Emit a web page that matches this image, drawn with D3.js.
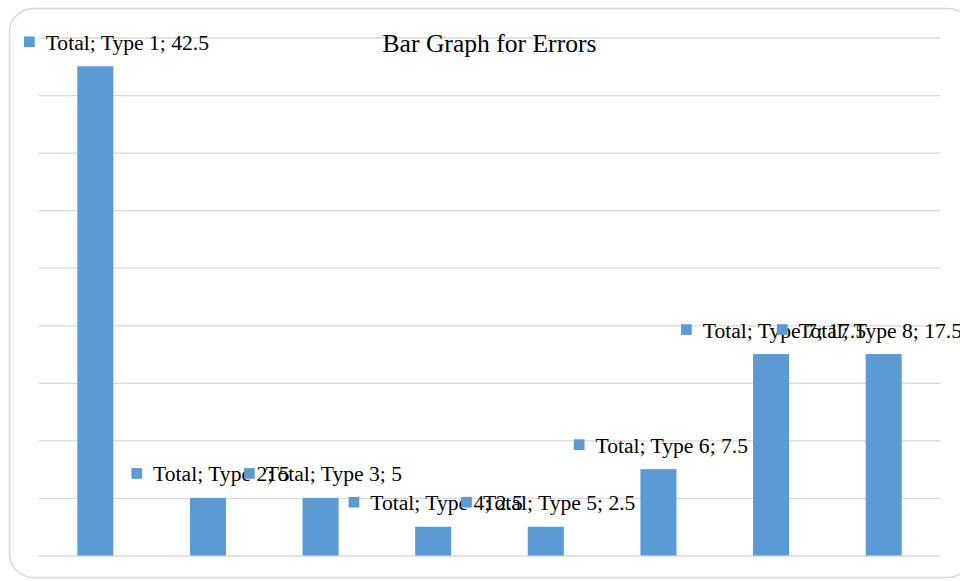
<!DOCTYPE html>
<html>
<head>
<meta charset="utf-8">
<script src="https://cdn.jsdelivr.net/npm/d3@7"></script>
<style>
  html, body { margin: 0; padding: 0; background: #fff; }
  svg { display: block; }
</style>
</head>
<body>
<svg id="chart" width="960" height="581"></svg>
<script>
const seriesName = "Total";
const categories = ["Type 1", "Type 2", "Type 3", "Type 4", "Type 5", "Type 6", "Type 7", "Type 8"];
const values = [42.5, 5, 5, 2.5, 2.5, 7.5, 17.5, 17.5];
const yTicks = [0, 5, 10, 15, 20, 25, 30, 35, 40, 45];
const title = "Bar Graph for Errors";

const W = 960, H = 581;
const svg = d3.select("#chart");
const font = "'Liberation Serif', 'Times New Roman', serif";
const barColor = "#5b9bd5";

// chart area border
svg.append("rect")
  .attr("x", 9.5).attr("y", 8.5)
  .attr("width", 962).attr("height", 569)
  .attr("rx", 24).attr("ry", 24)
  .attr("fill", "#fff")
  .attr("stroke", "#d9d9d9").attr("stroke-width", 1.5);

const plot = { left: 39, right: 940, top: 37.5, bottom: 555.5 };

const x = d3.scaleBand()
  .domain(categories)
  .range([plot.left, plot.right])
  .paddingInner(0.68).paddingOuter(0.34);

const y = d3.scaleLinear()
  .domain([0, 45])
  .range([plot.bottom, plot.top]);

// gridlines
const yAxis = d3.axisLeft(y).tickValues(yTicks).tickSize(-(plot.right - plot.left)).tickFormat("");
const gAxis = svg.append("g").attr("transform", `translate(${plot.left},0)`).call(yAxis);
gAxis.select(".domain").remove();
gAxis.selectAll(".tick line").attr("stroke", "#d9d9d9").attr("stroke-width", 1.3);

// bars
svg.append("g").selectAll("rect")
  .data(values)
  .join("rect")
  .attr("x", (d, i) => x(categories[i]))
  .attr("y", d => y(d))
  .attr("width", x.bandwidth())
  .attr("height", d => y(0) - y(d))
  .attr("fill", barColor);

// title
svg.append("text")
  .attr("x", 489.5).attr("y", 51.5)
  .attr("text-anchor", "middle")
  .attr("font-family", font)
  .attr("font-size", 25.6)
  .attr("fill", "#000")
  .text(title);

// data labels
const sq = 10.7, gap = 11;
const labels = svg.append("g");
values.forEach((v, i) => {
  const g = labels.append("g");
  const t = g.append("text")
    .attr("font-family", font)
    .attr("font-size", 21.6)
    .attr("fill", "#000")
    .text(`${seriesName}; ${categories[i]}; ${v}`);
  const tw = t.node().getComputedTextLength();
  const total = sq + gap + tw;
  const cx = x(categories[i]) + x.bandwidth() / 2 + 2.5;
  let left = cx - total / 2;
  if (left < 24) left = 24;
  if (left + total > 962) left = 962 - total;
  const cy = y(v) - 24.5;
  g.append("rect")
    .attr("x", left).attr("y", cy - sq / 2)
    .attr("width", sq).attr("height", sq)
    .attr("fill", barColor);
  t.attr("x", left + sq + gap).attr("y", cy + 8);
});
</script>
</body>
</html>
